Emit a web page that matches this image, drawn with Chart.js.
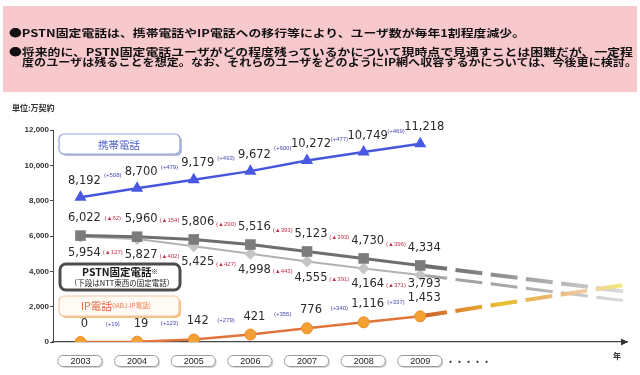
<!DOCTYPE html>
<html>
<head>
<meta charset="utf-8">
<script src="https://cdn.jsdelivr.net/npm/chart.js@4/dist/chart.umd.min.js"></script>
<style>
  body { margin: 0; background: #fff; }
  #wrap { position: relative; width: 640px; height: 375px; overflow: hidden; }
  #head { position: absolute; left: 3px; top: 6px; width: 634px; height: 86px; background: #f7c8cc; }
  .ln { position: absolute; white-space: nowrap; font: bold 10.5px/11px 'Noto Sans CJK JP', sans-serif; color: #111; transform-origin: left center; }
  canvas { position: absolute; left: 0; top: 0; }
</style>
</head>
<body>
<div id="wrap">
  <div id="head"></div>
  <canvas id="chart" width="640" height="375"></canvas>
  <div class="ln" style="left:9px;top:26.5px" data-w="516">●PSTN固定電話は、携帯電話やIP電話への移行等により、ユーザ数が毎年1割程度減少。</div>
  <div class="ln" style="left:9px;top:45.5px" data-w="624">●将来的に、PSTN固定電話ユーザがどの程度残っているかについて現時点で見通すことは困難だが、一定程</div>
  <div class="ln" style="left:22px;top:56px" data-w="615">度のユーザは残ることを想定。なお、それらのユーザをどのようにIP網へ収容するかについては、今後更に検討。</div>
</div>
<script>
const years = [2003, 2004, 2005, 2006, 2007, 2008, 2009];
const mobile = [8192, 8700, 9179, 9672, 10272, 10749, 11218];
const pstn = [6022, 5960, 5806, 5516, 5123, 4730, 4334];
const ntt = [5954, 5827, 5425, 4998, 4555, 4164, 3793];
const ip = [0, 19, 142, 421, 776, 1116, 1453];
const mobileDiff = ['(+508)', '(+479)', '(+493)', '(+600)', '(+477)', '(+469)'];
const pstnDiff = ['(▲62)', '(▲154)', '(▲290)', '(▲393)', '(▲393)', '(▲396)'];
const nttDiff = ['(▲127)', '(▲402)', '(▲427)', '(▲443)', '(▲391)', '(▲371)'];
const ipDiff = ['(+19)', '(+123)', '(+279)', '(+355)', '(+340)', '(+337)'];
// rough trend after 2009 (the faded dashes)
const projYear = 2012.6;
const pstnProj = 2860;
const nttProj = 2340;
const ipProj = 3230;
const yTicks = [0, 2000, 4000, 6000, 8000, 10000, 12000];
const xMin = 2002.515;
const xMax = 2012.65;

// the header font is wide and flat: stretch each line to the original width
document.querySelectorAll('.ln').forEach(el => {
  const w = el.getBoundingClientRect().width;
  el.style.transform = 'scaleX(' + (+el.dataset.w / w) + ')';
});

const last = years.length - 1;
const pts = vals => vals.map((v, i) => ({x: years[i], y: v}));
const proj = (vals, end) => [{x: years[last], y: vals[last]}, {x: projYear, y: end}];
const fmt = v => v.toLocaleString('en-US');

function fade(stops) {
  return c => {
    const chart = c.chart;
    if (!chart.chartArea) return stops[0][1];
    const xs = chart.scales.x;
    const g = chart.ctx.createLinearGradient(xs.getPixelForValue(years[last]), 0, xs.getPixelForValue(projYear), 0);
    stops.forEach(s => g.addColorStop(s[0], s[1]));
    return g;
  };
}

function rrect(ctx, x, y, w, h, r) {
  ctx.beginPath();
  ctx.moveTo(x + r, y);
  ctx.arcTo(x + w, y, x + w, y + h, r);
  ctx.arcTo(x + w, y + h, x, y + h, r);
  ctx.arcTo(x, y + h, x, y, r);
  ctx.arcTo(x, y, x + w, y, r);
  ctx.closePath();
}

const jp = "'Noto Sans CJK JP', sans-serif";

const labelPlugin = {
  id: 'labels',
  beforeDatasetsDraw(chart) {
    const ctx = chart.ctx;
    ctx.save();
    // 携帯電話 box
    ctx.fillStyle = '#b4bddc';
    rrect(ctx, 61, 136, 121, 20, 5); ctx.fill();
    ctx.fillStyle = '#fff';
    ctx.strokeStyle = '#95a3d6';
    ctx.lineWidth = 1.2;
    rrect(ctx, 59, 134, 121, 20, 5); ctx.fill(); ctx.stroke();
    ctx.fillStyle = '#4d5fc8';
    ctx.font = '10.5px ' + jp;
    ctx.textAlign = 'center';
    ctx.textBaseline = 'middle';
    ctx.fillText('携帯電話', 119, 145);

    // PSTN box
    ctx.fillStyle = '#fff';
    ctx.strokeStyle = '#4d4d4d';
    ctx.lineWidth = 3;
    rrect(ctx, 60, 264, 120, 26, 6); ctx.fill(); ctx.stroke();
    ctx.fillStyle = '#1a1a1a';
    ctx.font = 'bold 10.5px ' + jp;
    ctx.textAlign = 'left';
    ctx.fillText('PSTN固定電話', 82, 272);
    ctx.font = '7px ' + jp;
    ctx.fillText('※', 151, 271);
    ctx.font = '7.5px ' + jp;
    ctx.textAlign = 'center';
    ctx.fillText('（下段はNTT東西の固定電話）', 122, 283);

    // IP電話 box
    ctx.fillStyle = '#f5bf82';
    rrect(ctx, 61, 298, 120, 20, 5); ctx.fill();
    ctx.fillStyle = '#fffaf4';
    ctx.strokeStyle = '#f3caa2';
    ctx.lineWidth = 1.2;
    rrect(ctx, 59, 296, 120, 20, 5); ctx.fill(); ctx.stroke();
    ctx.fillStyle = '#e6643c';
    ctx.textAlign = 'left';
    ctx.font = '10.5px ' + jp;
    ctx.fillText('IP電話', 81, 306);
    ctx.font = '6.5px ' + jp;
    ctx.fillStyle = '#e8794a';
    ctx.fillText('(0ABJ-IP電話)', 110, 306);
    ctx.restore();
  },
  afterDatasetsDraw(chart) {
    const ctx = chart.ctx;
    const xs = chart.scales.x, ys = chart.scales.y;
    ctx.save();
    ctx.textAlign = 'center';
    ctx.textBaseline = 'middle';

    const series = [
      [mobile, mobileDiff, -16.5, -17, '#4848b0'],
      [pstn, pstnDiff, -17.3, -17.5, '#c0304a'],
      [ntt, nttDiff, 16, 14, '#c0304a'],
      [ip, ipDiff, -18, -17, '#4848b0']
    ];
    series.forEach(([vals, diffs, dy, ddy, col]) => {
      vals.forEach((v, i) => {
        const x = xs.getPixelForValue(years[i]);
        let off = dy;
        if (vals === ntt && i === last) off = 9;
        ctx.font = '11.5px "DejaVu Sans"';
        ctx.fillStyle = '#2a2a2a';
        ctx.fillText(fmt(v), x + 4, ys.getPixelForValue(v) + off);
      });
      diffs.forEach((d, i) => {
        const x = (xs.getPixelForValue(years[i]) + xs.getPixelForValue(years[i + 1])) / 2 + 4;
        const y = ys.getPixelForValue((vals[i] + vals[i + 1]) / 2) + ddy;
        ctx.font = '6px "Liberation Sans"';
        ctx.fillStyle = col;
        ctx.fillText(d, x, y);
      });
    });
    ctx.restore();
  },
  afterDraw(chart) {
    const ctx = chart.ctx;
    const xs = chart.scales.x, area = chart.chartArea;
    ctx.save();
    // arrow on x axis
    ctx.fillStyle = '#333';
    ctx.beginPath();
    ctx.moveTo(area.right - 6, area.bottom - 3.5);
    ctx.lineTo(area.right + 1, area.bottom);
    ctx.lineTo(area.right - 6, area.bottom + 3.5);
    ctx.closePath();
    ctx.fill();

    // year boxes
    ctx.textAlign = 'center';
    ctx.textBaseline = 'middle';
    years.forEach(y => {
      const x = xs.getPixelForValue(y);
      ctx.fillStyle = '#d6d6d6';
      rrect(ctx, x - 21, 357, 44, 11, 5); ctx.fill();
      ctx.fillStyle = '#fff';
      ctx.strokeStyle = '#9a9a9a';
      ctx.lineWidth = 1;
      rrect(ctx, x - 22.5, 355.5, 44, 11, 5); ctx.fill(); ctx.stroke();
      ctx.fillStyle = '#222';
      ctx.font = '9px "Liberation Sans"';
      ctx.fillText(String(y), x, 361.5);
    });
    ctx.fillStyle = '#333';
    ctx.font = 'bold 9px ' + jp;
    ctx.textAlign = 'left';
    ctx.fillText('・・・・・', 446, 362);
    ctx.font = 'bold 8px ' + jp;
    ctx.fillText('年', 613, 356);
    ctx.fillText('単位:万契約', 12, 108);
    ctx.restore();
  }
};

const chart = new Chart(document.getElementById('chart').getContext('2d'), {
  type: 'line',
  data: {
    datasets: [
      {data: pts(mobile), borderColor: '#4656dc', borderWidth: 2.5, backgroundColor: '#4858e2',
        pointStyle: 'triangle', pointRadius: 7, pointBorderWidth: 0},
      {data: pts(ip), borderColor: '#e0743a', borderWidth: 2.5, backgroundColor: '#f4a032',
        pointStyle: 'circle', pointRadius: 5.5, pointBorderColor: '#ea8c28', pointBorderWidth: 1},
      {data: pts(pstn), borderColor: '#6e6e6e', borderWidth: 3, backgroundColor: '#7c7c7c',
        pointStyle: 'rect', pointRadius: 7.5, pointBorderWidth: 0},
      {data: pts(ntt), borderColor: '#b2b2b2', borderWidth: 2, backgroundColor: '#c4c4c4',
        pointStyle: 'rectRot', pointRadius: 6, pointBorderWidth: 0},
      {data: proj(ip, ipProj), borderWidth: 4, borderDash: [27, 8.5], pointRadius: 0,
        borderColor: fade([[0, '#cc5f26'], [0.2, '#e08a30'], [0.4, '#e8c032'], [0.6, '#e8b464'], [0.8, '#efc9a4'], [1, '#f2ec78']])},
      {data: proj(pstn, pstnProj), borderWidth: 4, borderDash: [27, 8.5], pointRadius: 0,
        borderColor: fade([[0, '#686868'], [0.3, '#858585'], [0.55, '#a6a6a6'], [0.8, '#c4c4c4'], [1, '#dcdcdc']])},
      {data: proj(ntt, nttProj), borderWidth: 3, borderDash: [27, 8.5], pointRadius: 0,
        borderColor: fade([[0, '#a8a8a8'], [0.3, '#a0a0a0'], [0.6, '#b4b4b4'], [0.85, '#cdcdcd'], [1, '#dedede']])}
    ]
  },
  options: {
    responsive: false,
    animation: false,
    events: [],
    layout: {padding: {top: 130, bottom: 33, right: 13, left: 0}},
    plugins: {legend: {display: false}, tooltip: {enabled: false}},
    elements: {line: {tension: 0}},
    scales: {
      x: {
        type: 'linear', min: xMin, max: xMax,
        ticks: {display: false},
        grid: {display: false},
        border: {color: '#444', width: 1.2},
        afterFit: s => { s.height = 0; }
      },
      y: {
        min: 0, max: 12000,
        afterBuildTicks: s => { s.ticks = yTicks.map(v => ({value: v})); },
        ticks: {color: '#333', padding: 1, font: {family: 'Liberation Sans', size: 8, weight: 'bold'}},
        grid: {drawOnChartArea: false, drawTicks: true, tickLength: 3, color: '#444'},
        border: {color: '#444', width: 1},
        afterFit: s => { s.width = 53; }
      }
    }
  },
  plugins: [labelPlugin]
});
</script>
</body>
</html>
